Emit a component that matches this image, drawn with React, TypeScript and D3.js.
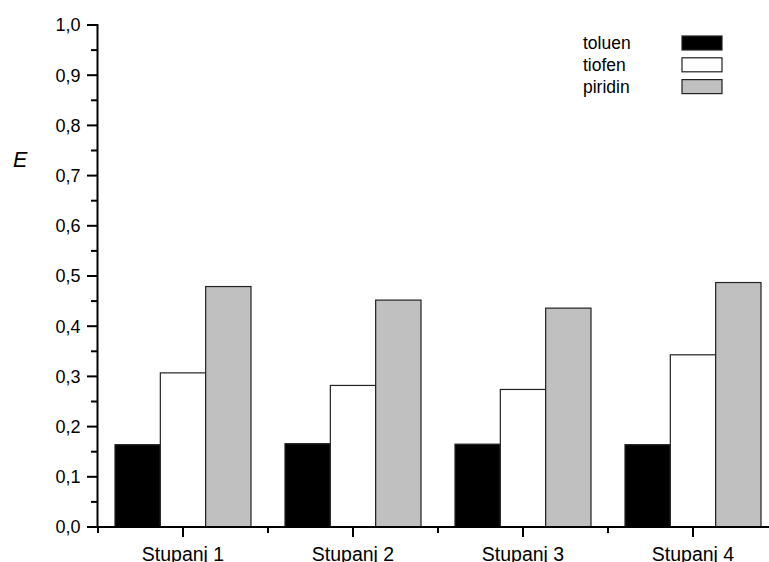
import React from "react";
import * as d3 from "d3";

const categories = ["Stupanj 1", "Stupanj 2", "Stupanj 3", "Stupanj 4"];
const seriesNames = ["toluen", "tiofen", "piridin"];
const toluen = [0.164, 0.166, 0.165, 0.164];
const tiofen = [0.307, 0.282, 0.274, 0.343];
const piridin = [0.479, 0.452, 0.436, 0.487];
const yTicks = [0, 0.1, 0.2, 0.3, 0.4, 0.5, 0.6, 0.7, 0.8, 0.9, 1.0];
const yMinor = [0.05, 0.15, 0.25, 0.35, 0.45, 0.55, 0.65, 0.75, 0.85, 0.95];

const seriesValues = [toluen, tiofen, piridin];
const fills = ["#000000", "#ffffff", "#c0c0c0"];

const W = 769;
const H = 562;
const FONT = "'Liberation Sans', Arial, sans-serif";

export default function App() {
  const x = d3.scaleBand<string>().domain(categories).range([98, 778]).paddingInner(0.2).paddingOuter(0.1);
  const xs = d3.scaleBand<string>().domain(seriesNames).range([0, x.bandwidth()]);
  const y = d3.scaleLinear().domain([0, 1]).range([527, 25]);
  const fmt = (v: number) => v.toFixed(1).replace(".", ",");
  const step = x.step();
  const x0 = x.range()[0];

  return (
    <svg width={W} height={H} style={{ position: "absolute", left: 0, top: 0, background: "#fff" }} fontFamily={FONT}>
      {categories.map((c, ci) =>
        seriesNames.map((s, si) => {
          const v = seriesValues[si][ci];
          const bx = (x(c) as number) + (xs(s) as number);
          return (
            <rect key={c + s} x={bx} y={y(v)} width={xs.bandwidth()} height={y(0) - y(v)} fill={fills[si]} stroke="#222" strokeWidth={1.2} />
          );
        })
      )}
      {/* y axis */}
      <line x1={97.5} x2={97.5} y1={y(1) - 1} y2={y(0) + 1} stroke="#000" strokeWidth={2} />
      {yTicks.map((t) => (
        <g key={"yt" + t}>
          <line x1={87} x2={97} y1={y(t)} y2={y(t)} stroke="#000" strokeWidth={2} />
          <text x={80.5} y={y(t) + 6.3} textAnchor="end" fontSize={18} fill="#000">
            {fmt(t)}
          </text>
        </g>
      ))}
      {yMinor.map((t) => (
        <line key={"ym" + t} x1={91} x2={97} y1={y(t)} y2={y(t)} stroke="#000" strokeWidth={2} />
      ))}
      {/* x axis */}
      <line x1={96.5} x2={W} y1={y(0)} y2={y(0)} stroke="#000" strokeWidth={2} />
      {categories.map((c) => {
        const cx = (x(c) as number) + x.bandwidth() / 2;
        return (
          <g key={"xt" + c}>
            <line x1={cx} x2={cx} y1={y(0)} y2={y(0) + 10} stroke="#000" strokeWidth={2} />
            <text x={cx} y={560.5} textAnchor="middle" fontSize={19.5} fill="#000">
              {c}
            </text>
          </g>
        );
      })}
      {d3.range(categories.length + 1).map((i) => (
        <line key={"xm" + i} x1={x0 + i * step} x2={x0 + i * step} y1={y(0)} y2={y(0) + 6} stroke="#000" strokeWidth={2} />
      ))}
      {/* y label */}
      <text x={13} y={166.5} fontSize={21.5} fontStyle="italic" fill="#000">
        E
      </text>
      {/* legend */}
      {seriesNames.map((s, i) => {
        const cy = 43 + i * 21.8;
        return (
          <g key={"lg" + s}>
            <text x={583} y={cy + 6} fontSize={17.5} fill="#000">
              {s}
            </text>
            <rect x={682} y={cy - 7} width={40} height={14} fill={fills[i]} stroke="#222" strokeWidth={1.2} />
          </g>
        );
      })}
    </svg>
  );
}
